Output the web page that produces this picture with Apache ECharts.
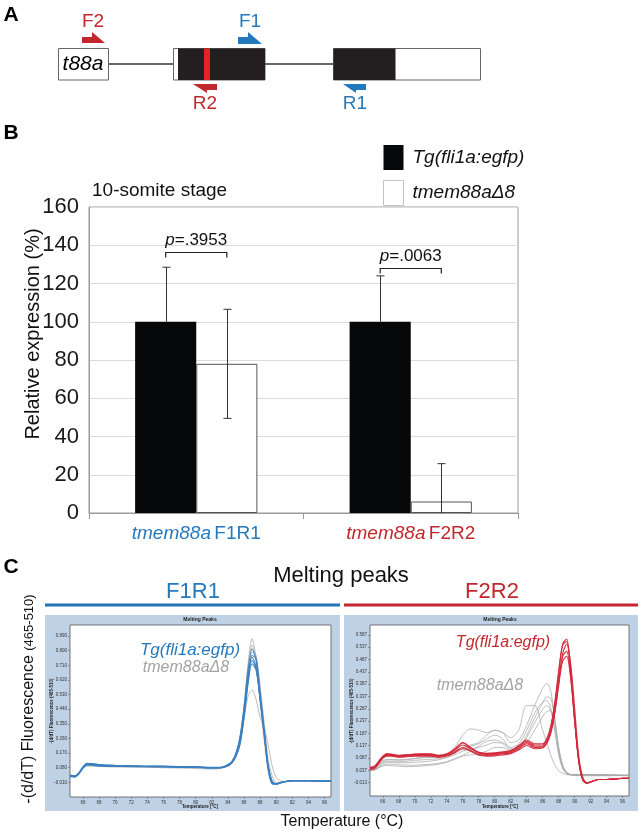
<!DOCTYPE html>
<html><head><meta charset="utf-8">
<script src="https://cdn.jsdelivr.net/npm/echarts@6/dist/echarts.min.js"></script>
<style>html,body{margin:0;padding:0;background:#fff}#c{width:642px;height:835px}</style>
</head><body><div id="c"></div>
<script>
const FONT = '"Liberation Sans", Arial, Helvetica, sans-serif';
const BLUE = '#2479bd', RED = '#c1272d', GRAYTXT = '#a3a3a3';

// ---------- Panel B data ----------
const gene = 'tmem88a';
const primerPairs = ['F1R1', 'F2R2'];
const seriesNames = ['Tg(fli1a:egfp)', 'tmem88aΔ8'];
const wtValues = [100, 100];
const wtErrors = [28.5, 24];
const mutValues = [78, 6];
const mutErrors = [28.5, 19.8];
const pValues = ['.3953', '.0063'];
const pBracketY = [136.5, 128];
const yTicksB = [0, 20, 40, 60, 80, 100, 120, 140, 160];

// ---------- Panel C data ----------
const meltTicksX = [66, 68, 70, 72, 74, 76, 78, 80, 82, 84, 86, 88, 90, 92, 94, 96];
const meltTicksYF1R1 = [-0.010, 0.080, 0.170, 0.260, 0.350, 0.440, 0.530, 0.620, 0.710, 0.800, 0.890];
const meltTicksYF2R2 = [-0.013, 0.037, 0.087, 0.137, 0.187, 0.237, 0.287, 0.337, 0.387, 0.437, 0.487, 0.537, 0.587];

const tempsF1R1 = [64.4, 65, 65.5, 66, 66.5, 67, 68, 70, 72, 74, 76, 78, 80, 82, 83, 84, 84.5, 85, 85.5, 86, 86.5, 87, 87.5, 88, 88.5, 89, 89.5, 90, 90.5, 91, 92, 94, 96, 96.8];
const f1r1Wt1 = [0.030, 0.025, 0.045, 0.080, 0.100, 0.100, 0.095, 0.090, 0.090, 0.088, 0.088, 0.085, 0.085, 0.080, 0.080, 0.095, 0.115, 0.160, 0.250, 0.420, 0.640, 0.760, 0.700, 0.500, 0.300, 0.080, -0.015, -0.020, -0.012, -0.006, 0.000, 0.000, -0.002, -0.002];
const f1r1Wt2 = [0.035, 0.030, 0.050, 0.085, 0.105, 0.105, 0.100, 0.095, 0.092, 0.090, 0.090, 0.087, 0.086, 0.082, 0.082, 0.100, 0.120, 0.170, 0.270, 0.450, 0.680, 0.810, 0.740, 0.520, 0.300, 0.070, -0.020, -0.022, -0.012, -0.006, 0.000, 0.000, -0.002, -0.002];
const f1r1Wt3 = [0.025, 0.022, 0.040, 0.075, 0.095, 0.095, 0.090, 0.088, 0.087, 0.086, 0.085, 0.083, 0.082, 0.078, 0.078, 0.092, 0.110, 0.150, 0.230, 0.400, 0.600, 0.720, 0.680, 0.500, 0.280, 0.090, -0.010, -0.018, -0.012, -0.006, 0.000, 0.000, -0.002, -0.002];
const f1r1Wt4 = [0.030, 0.028, 0.048, 0.082, 0.100, 0.102, 0.096, 0.092, 0.090, 0.089, 0.087, 0.084, 0.084, 0.080, 0.080, 0.093, 0.110, 0.150, 0.220, 0.380, 0.600, 0.770, 0.750, 0.550, 0.320, 0.100, 0.000, -0.020, -0.015, -0.008, 0.000, 0.000, -0.002, -0.002];
const f1r1Wt5 = [0.032, 0.027, 0.046, 0.083, 0.108, 0.106, 0.098, 0.094, 0.091, 0.088, 0.089, 0.086, 0.083, 0.079, 0.081, 0.097, 0.118, 0.165, 0.260, 0.430, 0.630, 0.740, 0.690, 0.510, 0.310, 0.085, -0.012, -0.020, -0.013, -0.007, 0.000, 0.000, -0.002, -0.002];
const f1r1Mut1 = [0.030, 0.028, 0.045, 0.080, 0.095, 0.095, 0.090, 0.088, 0.088, 0.086, 0.085, 0.083, 0.083, 0.080, 0.080, 0.090, 0.110, 0.160, 0.260, 0.460, 0.720, 0.875, 0.750, 0.480, 0.250, 0.060, -0.010, -0.015, -0.010, -0.005, 0.000, 0.000, -0.002, -0.002];
const f1r1Mut2 = [0.030, 0.028, 0.045, 0.078, 0.090, 0.090, 0.088, 0.085, 0.085, 0.083, 0.080, 0.078, 0.075, 0.072, 0.075, 0.090, 0.110, 0.150, 0.240, 0.380, 0.520, 0.560, 0.500, 0.390, 0.330, 0.220, 0.090, 0.020, 0.000, -0.005, 0.000, 0.000, -0.002, -0.002];
const f1r1Mut3 = [0.028, 0.026, 0.044, 0.079, 0.097, 0.097, 0.092, 0.089, 0.089, 0.087, 0.086, 0.084, 0.083, 0.079, 0.079, 0.092, 0.112, 0.160, 0.255, 0.440, 0.690, 0.835, 0.760, 0.520, 0.280, 0.070, -0.010, -0.018, -0.010, -0.005, 0.000, 0.000, -0.002, -0.002];
const f1r1Mut4 = [0.033, 0.029, 0.047, 0.081, 0.096, 0.096, 0.091, 0.087, 0.086, 0.085, 0.084, 0.082, 0.081, 0.078, 0.078, 0.090, 0.108, 0.150, 0.235, 0.400, 0.620, 0.790, 0.770, 0.580, 0.360, 0.130, 0.030, -0.010, -0.010, -0.005, 0.000, 0.000, -0.002, -0.002];

const tempsF2R2 = [64.4, 65, 65.5, 66, 66.5, 67, 68, 69, 70, 71, 72, 73, 74, 75, 76, 77, 78, 79, 80, 81, 82, 83, 84, 85, 86, 86.5, 87, 87.5, 88, 88.5, 89, 89.5, 90, 90.5, 91, 91.5, 92, 93, 94, 95, 96, 96.8];
const f2r2Wt1 = [0.045, 0.050, 0.070, 0.090, 0.100, 0.100, 0.095, 0.098, 0.100, 0.100, 0.100, 0.095, 0.100, 0.120, 0.150, 0.130, 0.110, 0.105, 0.105, 0.110, 0.115, 0.135, 0.155, 0.140, 0.140, 0.160, 0.210, 0.300, 0.430, 0.550, 0.570, 0.450, 0.250, 0.080, 0.000, -0.015, -0.010, 0.000, 0.000, 0.002, 0.005, 0.005];
const f2r2Wt2 = [0.040, 0.045, 0.065, 0.088, 0.098, 0.098, 0.092, 0.095, 0.098, 0.098, 0.097, 0.093, 0.098, 0.112, 0.130, 0.118, 0.102, 0.098, 0.100, 0.104, 0.108, 0.125, 0.145, 0.130, 0.132, 0.150, 0.195, 0.280, 0.400, 0.500, 0.520, 0.420, 0.240, 0.080, 0.000, -0.015, -0.010, 0.000, 0.000, 0.002, 0.005, 0.005];
const f2r2Wt3 = [0.048, 0.052, 0.072, 0.092, 0.102, 0.102, 0.097, 0.100, 0.102, 0.103, 0.102, 0.097, 0.102, 0.118, 0.140, 0.125, 0.108, 0.102, 0.103, 0.108, 0.112, 0.130, 0.150, 0.135, 0.135, 0.150, 0.190, 0.270, 0.390, 0.510, 0.550, 0.470, 0.290, 0.100, 0.010, -0.012, -0.010, 0.000, 0.000, 0.002, 0.004, 0.004];
const f2r2Wt4 = [0.042, 0.047, 0.066, 0.086, 0.095, 0.095, 0.090, 0.092, 0.095, 0.095, 0.095, 0.090, 0.095, 0.108, 0.125, 0.115, 0.098, 0.095, 0.096, 0.100, 0.105, 0.120, 0.138, 0.125, 0.128, 0.145, 0.185, 0.265, 0.380, 0.480, 0.500, 0.410, 0.240, 0.080, 0.000, -0.015, -0.010, 0.000, 0.000, 0.002, 0.005, 0.005];
const f2r2Wt5 = [0.050, 0.055, 0.075, 0.095, 0.105, 0.103, 0.098, 0.100, 0.103, 0.104, 0.104, 0.098, 0.104, 0.125, 0.148, 0.128, 0.110, 0.106, 0.108, 0.112, 0.118, 0.138, 0.160, 0.145, 0.145, 0.165, 0.215, 0.310, 0.440, 0.545, 0.560, 0.440, 0.240, 0.075, 0.000, -0.015, -0.010, 0.000, 0.000, 0.002, 0.005, 0.005];
const f2r2Mut1 = [0.040, 0.045, 0.060, 0.075, 0.080, 0.080, 0.078, 0.080, 0.085, 0.090, 0.090, 0.090, 0.100, 0.130, 0.180, 0.205, 0.200, 0.190, 0.200, 0.190, 0.170, 0.200, 0.300, 0.300, 0.200, 0.150, 0.100, 0.060, 0.035, 0.025, 0.020, 0.018, 0.017, 0.016, 0.015, 0.015, 0.015, 0.015, 0.015, 0.016, 0.016, 0.015];
const f2r2Mut2 = [0.040, 0.040, 0.050, 0.065, 0.070, 0.070, 0.068, 0.068, 0.070, 0.072, 0.075, 0.080, 0.090, 0.110, 0.130, 0.140, 0.150, 0.180, 0.200, 0.190, 0.150, 0.160, 0.220, 0.300, 0.370, 0.390, 0.360, 0.250, 0.120, 0.050, 0.025, 0.020, 0.020, 0.020, 0.020, 0.020, 0.020, 0.020, 0.020, 0.019, 0.018, 0.018];
const f2r2Mut3 = [0.045, 0.048, 0.060, 0.075, 0.080, 0.080, 0.080, 0.082, 0.085, 0.088, 0.090, 0.092, 0.098, 0.110, 0.125, 0.135, 0.145, 0.165, 0.180, 0.165, 0.125, 0.130, 0.180, 0.250, 0.310, 0.335, 0.330, 0.250, 0.130, 0.055, 0.028, 0.020, 0.018, 0.018, 0.018, 0.018, 0.018, 0.017, 0.017, 0.016, 0.016, 0.016];
const f2r2Mut4 = [0.035, 0.038, 0.048, 0.058, 0.062, 0.062, 0.060, 0.058, 0.058, 0.060, 0.062, 0.066, 0.072, 0.085, 0.095, 0.100, 0.105, 0.115, 0.130, 0.130, 0.115, 0.125, 0.170, 0.230, 0.285, 0.300, 0.280, 0.210, 0.110, 0.050, 0.025, 0.020, 0.020, 0.019, 0.019, 0.019, 0.019, 0.019, 0.018, 0.018, 0.017, 0.017];
const f2r2Mut5 = [0.042, 0.044, 0.055, 0.068, 0.072, 0.072, 0.072, 0.074, 0.078, 0.080, 0.082, 0.084, 0.090, 0.100, 0.115, 0.125, 0.130, 0.140, 0.150, 0.145, 0.120, 0.120, 0.150, 0.200, 0.255, 0.275, 0.280, 0.230, 0.130, 0.060, 0.030, 0.020, 0.018, 0.018, 0.017, 0.017, 0.017, 0.017, 0.017, 0.016, 0.016, 0.016];
const f2r2Mut6 = [0.038, 0.040, 0.048, 0.055, 0.057, 0.056, 0.054, 0.052, 0.053, 0.055, 0.058, 0.062, 0.070, 0.082, 0.098, 0.115, 0.135, 0.155, 0.160, 0.150, 0.130, 0.145, 0.200, 0.270, 0.315, 0.320, 0.290, 0.200, 0.100, 0.045, 0.024, 0.020, 0.019, 0.019, 0.019, 0.019, 0.019, 0.018, 0.018, 0.018, 0.017, 0.017];

// ---------- build ----------
const chart = echarts.init(document.getElementById('c'));

function curveSeries(temps, list, color, width, idx, z) {
  return list.map(vals => ({
    type: 'line', xAxisIndex: idx, yAxisIndex: idx, silent: true,
    data: temps.map((t, k) => [t, vals[k]]),
    smooth: 0.3, symbol: 'none', z: z,
    lineStyle: { color: color, width: width, opacity: 0.95 }
  }));
}

const errData = primerPairs.map((p, i) => [i, wtValues[i], wtErrors[i], -1, 0])
  .concat(primerPairs.map((p, i) => [i, mutValues[i], mutErrors[i], 1, 1]));
const bracketData = primerPairs.map((p, i) => [i, pBracketY[i], pValues[i]]);
const BAR_FRAC = 0.285;

function meltAxes(idx, yMin, yMax, yTicks) {
  return {
    x: {
      gridIndex: idx, type: 'value', min: 64.4, max: 96.8,
      axisLine: { show: false, onZero: false }, splitLine: { show: false },
      axisTick: { show: true, customValues: meltTicksX, length: 2, lineStyle: { color: '#555', width: 0.5 } },
      axisLabel: { customValues: meltTicksX, fontSize: 4.5, color: '#333', margin: 3, fontFamily: FONT }
    },
    y: {
      gridIndex: idx, type: 'value', min: yMin, max: yMax,
      axisLine: { show: false, onZero: false }, splitLine: { show: false },
      axisTick: { show: true, customValues: yTicks, length: 2, lineStyle: { color: '#555', width: 0.5 } },
      axisLabel: { customValues: yTicks, formatter: v => v.toFixed(3), fontSize: 4.5, color: '#333', margin: 3, fontFamily: FONT }
    }
  };
}
const m1 = meltAxes(1, -0.1, 0.958, meltTicksYF1R1);
const m2 = meltAxes(2, -0.067, 0.627, meltTicksYF2R2);

function txt(x, y, text, font, fill, opts) {
  return Object.assign({
    type: 'text', x: x, y: y,
    style: { text: text, font: font, fill: fill, align: 'center', verticalAlign: 'middle' }
  }, opts || {});
}
function poly(points, fill) {
  return { type: 'polygon', shape: { points: points }, style: { fill: fill } };
}

const graphics = [
  // panel letters
  txt(11, 15, 'A', 'bold 21px ' + FONT, '#000'),
  txt(11, 133, 'B', 'bold 21px ' + FONT, '#000'),
  txt(11, 567, 'C', 'bold 21px ' + FONT, '#000'),
  // Panel A gene diagram
  { type: 'line', shape: { x1: 108, y1: 64, x2: 173, y2: 64 }, style: { stroke: '#333', lineWidth: 1.3 } },
  { type: 'line', shape: { x1: 265, y1: 64, x2: 333, y2: 64 }, style: { stroke: '#333', lineWidth: 1.3 } },
  { type: 'rect', shape: { x: 58.5, y: 48.5, width: 50, height: 31.5 }, style: { fill: '#fff', stroke: '#666', lineWidth: 1 } },
  txt(83, 64, 't88a', 'italic 21px ' + FONT, '#000'),
  { type: 'rect', shape: { x: 173.5, y: 48.5, width: 91.5, height: 31.5 }, style: { fill: '#fff', stroke: '#666', lineWidth: 1 } },
  { type: 'rect', shape: { x: 178, y: 48.5, width: 87, height: 31.5 }, style: { fill: '#231f20' } },
  { type: 'rect', shape: { x: 204, y: 48.5, width: 6, height: 31.5 }, style: { fill: '#e8202a' } },
  { type: 'rect', shape: { x: 333.5, y: 48.5, width: 147, height: 31.5 }, style: { fill: '#fff', stroke: '#666', lineWidth: 1 } },
  { type: 'rect', shape: { x: 333.5, y: 48.5, width: 62, height: 31.5 }, style: { fill: '#231f20' } },
  poly([[82, 37], [92, 37], [92, 32], [105, 43], [82, 43]], RED),
  poly([[238, 37], [248, 37], [248, 32], [262, 44], [238, 44]], BLUE),
  poly([[193, 84], [217, 84], [217, 90], [207, 90], [207, 93]], RED),
  poly([[343, 84], [366, 84], [366, 90], [356, 90], [356, 93]], BLUE),
  txt(93, 22, 'F2', '19px ' + FONT, RED),
  txt(250, 22, 'F1', '19px ' + FONT, BLUE),
  txt(205, 104, 'R2', '19px ' + FONT, RED),
  txt(355, 104, 'R1', '19px ' + FONT, BLUE),
  // Panel B texts
  txt(92, 191, '10-somite stage', '19px ' + FONT, '#111', { style: { text: '10-somite stage', font: '19px ' + FONT, fill: '#111', align: 'left', verticalAlign: 'middle' } }),
  txt(33, 334, 'Relative expression (%)', '20px ' + FONT, '#111', { rotation: Math.PI / 2 }),
  // Panel C header
  txt(341, 576, 'Melting peaks', '22px ' + FONT, '#111'),
  txt(193, 592, 'F1R1', '22px ' + FONT, BLUE),
  txt(492, 592, 'F2R2', '22px ' + FONT, RED),
  { type: 'rect', shape: { x: 45, y: 603.5, width: 295, height: 3 }, style: { fill: '#2474b8' } },
  { type: 'rect', shape: { x: 344, y: 603.5, width: 294, height: 3 }, style: { fill: '#c1272d' } },
  { type: 'rect', z: -10, shape: { x: 45, y: 615, width: 295, height: 196 }, style: { fill: '#bfd1e4' } },
  { type: 'rect', z: -10, shape: { x: 344, y: 615, width: 294, height: 196 }, style: { fill: '#bfd1e4' } },
  txt(200, 619.5, 'Melting Peaks', 'bold 5px ' + FONT, '#222'),
  txt(500, 619.5, 'Melting Peaks', 'bold 5px ' + FONT, '#222'),
  txt(200, 806.5, 'Temperature [°C]', 'bold 4.5px ' + FONT, '#222'),
  txt(500, 806.5, 'Temperature [°C]', 'bold 4.5px ' + FONT, '#222'),
  txt(52, 711, '-(d/dT) Fluorescence (465-510)', 'bold 4.5px ' + FONT, '#222', { rotation: Math.PI / 2 }),
  txt(352, 711, '-(d/dT) Fluorescence (465-510)', 'bold 4.5px ' + FONT, '#222', { rotation: Math.PI / 2 }),
  // in-plot labels
  txt(190, 650, 'Tg(fli1a:egfp)', 'italic 17px ' + FONT, BLUE),
  txt(186, 668, 'tmem88aΔ8', 'italic 16px ' + FONT, GRAYTXT),
  txt(503, 643, 'Tg(fli1a:egfp)', 'italic 16px ' + FONT, RED),
  txt(480, 686, 'tmem88aΔ8', 'italic 16px ' + FONT, GRAYTXT),
  // Panel C axis titles
  {
    type: 'text', x: 29, y: 699, rotation: Math.PI / 2,
    style: {
      text: '{a|-(d/dT) Fluorescence }{b|(465-510)}', align: 'center', verticalAlign: 'middle',
      rich: { a: { fontSize: 16, fontFamily: FONT, fill: '#111', color: '#111' }, b: { fontSize: 13, fontFamily: FONT, fill: '#111', color: '#111' } }
    }
  },
  txt(342, 822, 'Temperature (°C)', '16px ' + FONT, '#111')
];

const option = {
  animation: false,
  backgroundColor: '#fff',
  textStyle: { fontFamily: FONT },
  legend: {
    data: [
      { name: seriesNames[0] },
      { name: seriesNames[1], itemStyle: { color: '#fff', borderColor: '#c4c4c4', borderWidth: 1 } }
    ],
    orient: 'vertical', left: 378, top: 140,
    itemWidth: 20, itemHeight: 25, itemGap: 10, icon: 'rect',
    textStyle: { fontSize: 19, fontStyle: 'italic', color: '#111', fontFamily: FONT, padding: [0, 0, 0, 4] },
    selectedMode: false
  },
  grid: [
    { left: 89, top: 207, width: 429, height: 306, show: true, borderColor: '#9a9a9a', borderWidth: 1 },
    { left: 70, top: 625, width: 261, height: 172, show: true, borderColor: '#555', borderWidth: 0.8, backgroundColor: '#fff' },
    { left: 370, top: 625, width: 259, height: 171, show: true, borderColor: '#555', borderWidth: 0.8, backgroundColor: '#fff' }
  ],
  xAxis: [
    {
      gridIndex: 0, type: 'category', data: primerPairs,
      axisLine: { lineStyle: { color: '#9a9a9a', width: 1 } },
      axisTick: { show: true, length: 6, lineStyle: { color: '#9a9a9a' } },
      axisLabel: {
        margin: 11,
        formatter: (v, i) => '{g' + i + '|' + gene + '} {p' + i + '|' + v + '}',
        rich: {
          g0: { fontStyle: 'italic', color: BLUE, fontSize: 19, fontFamily: FONT },
          p0: { color: BLUE, fontSize: 19, fontFamily: FONT },
          g1: { fontStyle: 'italic', color: RED, fontSize: 19, fontFamily: FONT },
          p1: { color: RED, fontSize: 19, fontFamily: FONT }
        }
      }
    },
    m1.x, m2.x
  ],
  yAxis: [
    {
      gridIndex: 0, type: 'value', min: yTicksB[0], max: yTicksB[yTicksB.length - 1], interval: 20,
      axisLine: { show: true, lineStyle: { color: '#9a9a9a' } },
      axisTick: { show: false },
      splitLine: { lineStyle: { color: '#dcdcdc', width: 1 } },
      axisLabel: { fontSize: 22, color: '#1a1a1a', margin: 10, fontFamily: FONT }
    },
    m1.y, m2.y
  ],
  graphic: graphics,
  series: [
    {
      name: seriesNames[0], type: 'bar', xAxisIndex: 0, yAxisIndex: 0, data: wtValues,
      barWidth: (BAR_FRAC * 100) + '%', barGap: '0%',
      itemStyle: { color: '#050708' }
    },
    {
      name: seriesNames[1], type: 'bar', xAxisIndex: 0, yAxisIndex: 0, data: mutValues,
      barWidth: (BAR_FRAC * 100) + '%', barGap: '0%',
      itemStyle: { color: '#fff', borderColor: '#555', borderWidth: 1 }
    },
    {
      type: 'custom', xAxisIndex: 0, yAxisIndex: 0, silent: true, z: 5,
      data: errData, encode: { x: 0, y: 1 },
      renderItem: (params, api) => {
        const ci = api.value(0), v = api.value(1), e = api.value(2), side = api.value(3), mode = api.value(4);
        const band = api.size([1, 0])[0];
        const c0 = api.coord([ci, v]);
        const x = Math.round(c0[0] + side * band * BAR_FRAC / 2) + 0.5;
        const top = api.coord([ci, v + e])[1];
        const low = Math.max(0, v - e);
        const bot = mode ? api.coord([ci, low])[1] : c0[1];
        const st = { stroke: '#333', lineWidth: 1 };
        const ch = [
          { type: 'line', shape: { x1: x, y1: top, x2: x, y2: bot }, style: st },
          { type: 'line', shape: { x1: x - 4, y1: top, x2: x + 4, y2: top }, style: st }
        ];
        if (mode && v - e >= 0) ch.push({ type: 'line', shape: { x1: x - 4, y1: bot, x2: x + 4, y2: bot }, style: st });
        return { type: 'group', children: ch };
      }
    },
    {
      type: 'custom', xAxisIndex: 0, yAxisIndex: 0, silent: true, z: 5,
      data: bracketData, encode: { x: 0, y: 1 },
      renderItem: (params, api) => {
        const ci = api.value(0), v = api.value(1);
        const band = api.size([1, 0])[0];
        const c = api.coord([ci, v]);
        const off = band * BAR_FRAC / 2;
        const x1 = c[0] - off, x2 = c[0] + off, y = Math.round(c[1]) + 0.5;
        return {
          type: 'group', children: [
            { type: 'polyline', shape: { points: [[x1, y + 5], [x1, y], [x2, y], [x2, y + 5]] }, style: { stroke: '#222', lineWidth: 1.2, fill: null } },
            {
              type: 'text', x: c[0], y: y - 12,
              style: {
                text: '{i|p}{n|=' + bracketData[params.dataIndex][2] + '}', align: 'center', verticalAlign: 'middle',
                rich: { i: { fontStyle: 'italic', fontSize: 17, fontFamily: FONT, fill: '#111' }, n: { fontSize: 17, fontFamily: FONT, fill: '#111' } }
              }
            }
          ]
        };
      }
    }
  ]
    .concat(curveSeries(tempsF1R1, [f1r1Mut1, f1r1Mut2, f1r1Mut3, f1r1Mut4], '#a9a9a9', 0.8, 1, 3))
    .concat(curveSeries(tempsF1R1, [f1r1Wt1, f1r1Wt2, f1r1Wt3, f1r1Wt4, f1r1Wt5], '#3b7fc2', 1.1, 1, 4))
    .concat(curveSeries(tempsF2R2, [f2r2Mut1, f2r2Mut2, f2r2Mut3, f2r2Mut4, f2r2Mut5, f2r2Mut6], '#a9a9a9', 0.8, 2, 3))
    .concat(curveSeries(tempsF2R2, [f2r2Wt1, f2r2Wt2, f2r2Wt3, f2r2Wt4, f2r2Wt5], '#d2283a', 1.1, 2, 4))
};
chart.setOption(option);
</script>
</body></html>
